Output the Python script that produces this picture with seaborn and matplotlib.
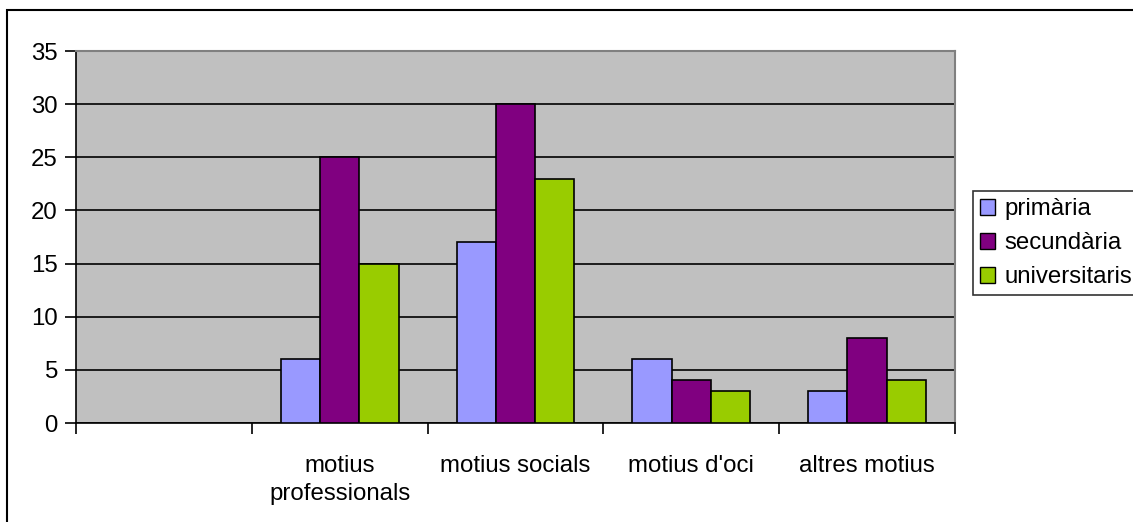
import matplotlib
matplotlib.use("Agg")
import matplotlib.pyplot as plt
import matplotlib.patches as mpatches
import seaborn as sns
import pandas as pd
import numpy as np

categories = ["", "motius\nprofessionals", "motius socials", "motius d'oci", "altres motius"]
series_names = ["primària", "secundària", "universitaris"]
primaria = [6, 17, 6, 3]
secundaria = [25, 30, 4, 8]
universitaris = [15, 23, 3, 4]
colors = ["#9999FF", "#800080", "#99CC00"]
yticks = [0, 5, 10, 15, 20, 25, 30, 35]

rows = []
for name, vals in zip(series_names, [primaria, secundaria, universitaris]):
    for cat, v in zip(categories[1:], vals):
        rows.append({"cat": cat, "serie": name, "val": v})
df = pd.DataFrame(rows)

sns.set_style("white")
plt.rcParams["font.family"] = ["Liberation Sans", "DejaVu Sans"]
plt.rcParams["text.color"] = "black"
plt.rcParams["xtick.color"] = "black"
plt.rcParams["ytick.color"] = "black"

FS = 17.3
W, H = 1133, 522
fig = plt.figure(figsize=(W / 100, H / 100), dpi=100)
ax = fig.add_axes([76 / W, 1 - 423 / H, (955 - 76) / W, (423 - 51) / H])
ax.set_facecolor("#C0C0C0")

sns.barplot(data=df, x="cat", y="val", hue="serie", order=categories,
            hue_order=series_names, palette=colors, width=0.67, gap=0,
            edgecolor="black", linewidth=1.2, saturation=1, ax=ax, zorder=3,
            errorbar=None)

ax.set_xlim(-0.5, 4.5)
ax.set_ylim(0, 35)
ax.set_yticks(yticks)
ax.set_yticklabels([str(t) for t in yticks], fontsize=FS, color="black")
ax.set_xticks(np.arange(-0.5, 5, 1.0))
ax.set_xticklabels([""] * 6)
ax.set_xticks(range(len(categories)), minor=True)
ax.set_xticklabels(categories, minor=True, fontsize=FS, linespacing=1.33, color="black")
ax.tick_params(axis="x", which="minor", length=0, pad=23)
ax.tick_params(axis="x", which="major", direction="out", length=8, width=1.2, color="black", bottom=True)
ax.tick_params(axis="y", direction="out", length=8, width=1.2, color="black", left=True, pad=5)
ax.set_xlabel("")
ax.set_ylabel("")

ax.yaxis.grid(True, color="black", linewidth=1.2, zorder=1)
ax.set_axisbelow(True)
for s in ["left", "bottom"]:
    ax.spines[s].set_color("black")
    ax.spines[s].set_linewidth(1.2)
for s in ["top", "right"]:
    ax.spines[s].set_color("#808080")
    ax.spines[s].set_linewidth(1.5)

handles = [mpatches.Patch(facecolor=c, edgecolor="black", linewidth=1) for c in colors]
if ax.get_legend() is not None:
    ax.get_legend().remove()
leg = fig.legend(handles, series_names, loc="upper left",
                 bbox_to_anchor=(973 / W, 1 - 191 / H), frameon=True,
                 fontsize=FS, handlelength=0.62, handleheight=0.62,
                 handletextpad=0.4, labelspacing=0.5, borderpad=0.3,
                 borderaxespad=0, fancybox=False)
leg.get_frame().set_edgecolor("black")
leg.get_frame().set_linewidth(1.2)

border = mpatches.Rectangle((7 / W, -0.1), 1.2, 1 - 10 / H + 0.1, transform=fig.transFigure,
                            fill=False, edgecolor="black", linewidth=1.5, clip_on=False)
fig.patches.append(border)

fig.savefig("out.png", dpi=100)
